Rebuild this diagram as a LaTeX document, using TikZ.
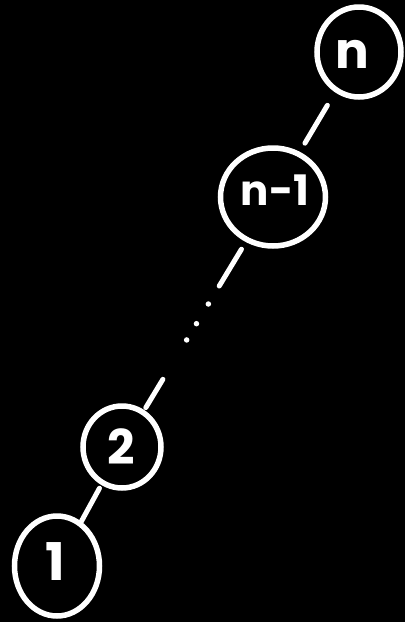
\documentclass[tikz,border=0pt]{standalone}
\usepackage{fontspec}
\setsansfont{Poppins}
\usetikzlibrary{calc,shapes.geometric}

\begin{document}
\begin{tikzpicture}[
      x=1pt, y=1pt,
      chainnode/.style={ellipse, draw=white, line width=5.5pt, inner sep=0pt},
      chainlabel/.style={text=white, inner sep=0pt, font=\sffamily\bfseries\fontsize{50}{50}\selectfont},
      chainlink/.style={draw=white, line width=5pt, line cap=round},
      chaindot/.style={fill=white, circle, inner sep=0pt, minimum size=5.5pt}
    ]
      % background
      \fill[black] (0,0) rectangle (405,-622);

      % nodes of the chain
      \node[chainnode, minimum width=84pt, minimum height=90pt] (top) at (359,-52) {};
      \node[chainlabel] (toplabel) at (352,-54) {n};
      \node[chainnode, minimum width=105pt, minimum height=98pt] (below) at (273,-197) {};
      \node[chainlabel, font=\sffamily\bfseries\fontsize{42}{42}\selectfont] (belowlabel) at (275,-190) {n-1};
      \node[chainnode, minimum width=78pt, minimum height=82pt] (two) at (122,-447) {};
      \node[chainlabel, font=\sffamily\bfseries\fontsize{48}{48}\selectfont] (twolabel) at (121,-447) {2};
      \node[chainnode, minimum width=85pt, minimum height=100pt] (one) at (57,-566) {};
      \node[chainlabel, font=\sffamily\bfseries\fontsize{52}{52}\selectfont] (onelabel) at (55,-562) {1};

      % links
      \draw[chainlink] ($(top)!62pt!(below)$) -- ($(top)!106pt!(below)$);
      \draw[chainlink] ($(below)!61pt!(two)$) -- ($(below)!104pt!(two)$);
      \draw[chainlink] ($(below)!213pt!(two)$) -- ($(below)!246pt!(two)$);
      \draw[chainlink] ($(two)!47pt!(one)$) -- ($(two)!87pt!(one)$);

      % dots
      \foreach \d in {125,148,167}
        \node[chaindot] at ($(below)!\d pt!(two)$) {};
    \end{tikzpicture}
\end{document}
